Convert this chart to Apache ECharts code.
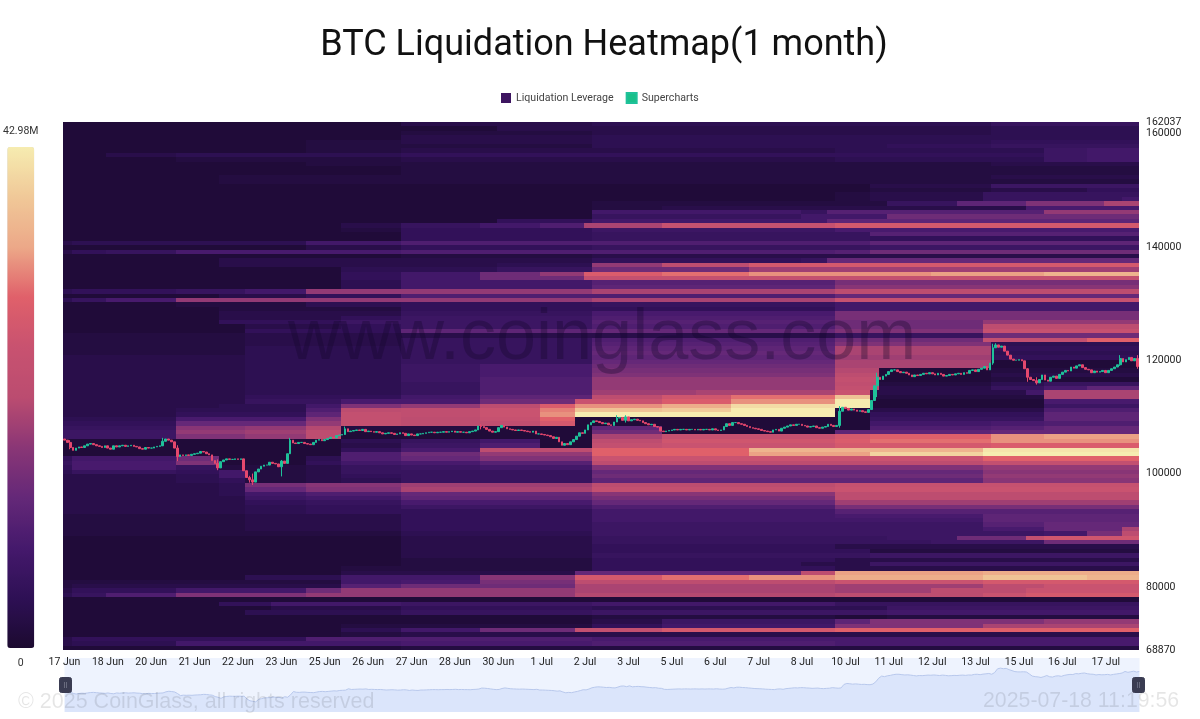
<!DOCTYPE html>
<html>
<head>
<meta charset="utf-8">
<script src="https://cdn.jsdelivr.net/npm/echarts@6/dist/echarts.min.js"></script>
<style>html,body{margin:0;padding:0;background:#fff}#chart{width:1200px;height:719px}</style>
</head>
<body>
<div id="chart"></div>
<script>
const chartTitle = 'BTC Liquidation Heatmap(1 month)';
const heatName = 'Liquidation Leverage';
const candleName = 'Supercharts';
const priceMin = 68870, priceMax = 162037, heatMax = 42.98;
const priceTicks = [68870, 80000, 100000, 120000, 140000, 160000, 162037];
const dateTicks = ['17 Jun','18 Jun','20 Jun','21 Jun','22 Jun','23 Jun','25 Jun','26 Jun','27 Jun','28 Jun','30 Jun','1 Jul','2 Jul','3 Jul','5 Jul','6 Jul','7 Jul','8 Jul','10 Jul','11 Jul','12 Jul','13 Jul','15 Jul','16 Jul','17 Jul'];
const palette = ['#1c0a30','#2e1055','#45196c','#642878','#8a3676','#bb4c70','#c85270','#e0606a','#eca888','#f0c898','#f6ecb0'];

// closing price of each candle, left to right
const closes = [
105900,105500,104600,104100,104500,104700,104600,104900,105200,105300,
105100,104900,104800,104600,104900,104500,104300,104900,104700,104900,
105000,104800,104900,105000,104800,104700,104400,104300,104600,104500,
104500,104700,104800,104900,105700,106100,105900,105600,104500,103000,
103300,103200,103300,103200,103400,103500,103600,103900,103800,103500,
103300,102300,101800,101000,102100,102400,102600,102500,102500,102600,
102500,102600,100500,99300,98900,98500,100300,100800,101300,101500,
101500,102000,101800,101700,101200,102200,101800,103500,105900,105400,
105300,105500,105500,105300,105200,105100,105500,105900,106000,105800,
106000,106200,106400,106300,106700,106800,106900,107900,107400,107500,
107600,107700,107600,107800,107400,107500,107400,107300,107400,107200,
107000,107100,107200,107100,106900,107000,107200,107100,106700,107000,
106800,106700,107000,107000,107100,107200,107300,107300,107200,107300,
107300,107400,107300,107400,107500,107300,107400,107300,107300,107200,
107400,107500,107700,108400,108300,108100,107800,107500,107300,107400,
108100,108500,108200,107900,107800,107700,107600,107700,107600,107500,
107400,107300,107500,107000,107000,106900,106800,106700,106500,106200,
106400,105600,105000,105300,105100,105600,106000,106600,107200,107100,
107700,108600,109000,109300,109200,109000,108800,108900,108600,108500,
109100,109800,109900,109400,110000,109300,109500,109600,109400,109300,
109000,108800,108600,108700,108300,108200,107500,107400,107500,107600,
107700,107800,107700,107800,107800,107700,107800,107800,107700,107800,
107700,107800,107800,107700,107900,107700,107600,107700,108300,108800,
108500,109000,109000,108800,108700,108500,108300,108100,108000,107900,
107800,107600,107500,107400,107300,107700,107800,107500,108000,108200,
108400,108600,108500,108700,108700,108500,108400,108200,108300,108400,
108100,108000,108200,108300,108700,108500,108300,108500,111000,111700,
111500,111200,111400,111200,111000,111100,110900,110800,111300,112900,
115500,117000,116600,117200,117500,118000,118300,118300,118000,117800,
117900,117700,117400,117100,117400,117300,117500,117700,117600,117800,
117600,117400,117700,117500,117200,117300,117500,117400,117600,117700,
117500,117800,117700,118200,118300,118000,118400,118600,118900,118300,
119500,122200,122700,122300,122500,121600,120900,120200,120000,120000,
120100,119900,118500,117000,116600,116400,116000,116600,117400,116500,
116300,117000,117200,116800,117500,117900,118200,118100,118800,118600,
119000,119200,118700,118400,118300,117800,118100,117900,118000,118200,
117800,118200,118500,118800,119200,120300,119700,120100,120500,119900,
120300,118900];
const firstOpen = 106100;
// the few candles with a wick long enough to be seen
const wickIndex = [2,34,39,53,64,65,75,78,97,144,191,194,268,281,321,322,333,336,365,371];
const wickHigh = [105900,106300,105000,102500,99600,100000,102400,106300,108300,108700,110300,110300,111900,117800,122900,123000,118600,117000,120900,120900];
const wickLow = [104300,105500,102200,100600,98400,98000,99500,105000,107200,107800,109300,109000,108100,113500,119200,122200,116200,115700,119000,118500];

// liquidity rows, top to bottom; each row is [startColumn, millions, startColumn, millions, ...]
const heatRows = [
[0,1,39,3,61,4,107,6],
[0,1,50,3,107,4],
[0,1,39,2,61,3,107,4],
[0,1,39,3,61,4],
[0,1,28,2,39,3,61,4,107,5],
[0,1,28,2,61,4,95,5,107,6],
[0,1,28,2,39,3,89,4,113,7,118,8],
[0,1,5,3,13,4,39,5,113,7,118,8],
[0,1,13,2,39,3,89,4,113,7,118,8],
[0,1,28,2,107,3],
[0,1,39,2],
[0,1,39,2],
[0,1,18,2,107,3],
[0,1,18,2],
[0,1,93,3,107,7],
[0,1,93,2,107,3,118,5],
[0,1,89,2,93,3,106,6],
[0,1,89,2,93,3,106,6,122,8],
[0,1,61,2,95,6,103,12,111,16,120,20],
[0,1,61,2,69,3,111,9],
[0,1,61,8,85,6,88,11,113,18],
[0,1,61,6,85,8,95,14],
[0,1,50,5,61,8,88,12],
[0,1,32,3,39,6,48,8,55,10,60,20,69,25,89,28],
[0,1,32,2,39,5,61,7,89,9],
[0,1,39,5,61,6,93,11],
[0,1,39,5,61,6,93,5],
[0,3,1,4,28,8,39,10,93,12],
[0,1,28,3,39,5,61,6,93,7],
[0,3,1,5,5,6,13,9,39,10,89,11,93,14],
[0,1,39,2,61,3],
[0,1,18,3,61,5,85,6,88,13],
[0,1,18,3,50,4,61,18,69,22,79,28],
[0,1,32,4,50,6,61,14,79,19],
[0,1,32,5,39,8,48,14,55,18,60,29,69,31,79,33,100,34,113,36],
[0,1,32,5,39,8,48,14,60,24],
[0,1,32,4,39,8,61,11,89,15],
[0,1,32,4,39,8,61,12,89,17],
[0,4,1,5,13,6,21,8,28,18,61,20,89,22],
[0,1,18,3,28,5,39,10,89,13],
[0,4,1,6,5,9,13,18,61,20,89,25],
[0,1,13,2,28,4,39,5,61,6,89,8],
[0,1,18,2,39,5,89,8],
[0,1,18,3,39,6,61,9,89,15],
[0,1,18,3,32,5,39,7,61,10,89,15],
[0,1,18,5,32,7,61,11,89,14,106,18],
[0,1,21,3,32,5,39,7,61,10,89,14,106,22],
[0,1,21,5,39,12,61,13,89,16,106,25],
[0,2,21,3,39,3,89,6,106,14],
[0,2,21,3,39,6,61,10,89,14,106,24,118,30],
[0,2,21,3,39,6,61,11,89,16,107,4],
[0,2,21,4,39,6,61,12,89,20,107,5],
[0,2,21,4,39,6,61,13,89,20,107,4],
[0,3,21,4,39,6,61,12,89,19,107,5],
[0,3,21,4,39,6,61,13,89,20,107,1],
[0,3,21,4,39,7,48,9,61,14,89,20,107,1],
[0,3,21,4,39,7,48,9,61,15,89,21,94,1,107,2],
[0,3,21,4,39,7,48,9,61,16,89,22,94,1,107,3],
[0,3,21,4,39,7,48,10,61,18,89,24,94,1,107,2,111,1],
[0,3,21,4,39,6,48,10,61,18,89,23,94,2,107,4,113,6],
[0,3,21,4,39,6,48,10,61,18,89,24,94,3,107,6,113,9,118,12],
[0,3,21,4,39,6,48,10,61,19,73,20,89,26,93,3,111,8,113,20],
[0,3,21,5,39,8,48,12,61,22,69,27,77,31,89,38,93,2,113,20],
[0,3,21,6,32,9,48,14,59,26,69,29,77,33,89,43,93,1,113,9],
[0,3,18,4,28,8,32,16,39,18,48,22,55,29,59,33,69,35,77,41,89,43,93,1,113,7],
[0,3,13,4,28,10,32,22,39,23,48,26,55,32,59,38,69,39,77,43,89,2,93,3,113,10],
[0,3,13,5,28,12,32,24,39,23,48,26,55,33,59,43,89,1,93,5,113,12],
[0,4,13,9,28,16,32,24,39,22,48,25,55,30,59,1,93,6,113,12],
[0,5,13,13,28,18,32,24,39,22,48,23,55,28,59,1,93,8,107,9,113,10],
[0,6,13,17,21,18,28,21,32,2,48,1,61,12,69,1,93,10,107,11,113,13],
[0,7,13,18,21,19,28,22,32,1,61,14,69,1,89,12,107,13],
[0,7,13,16,21,18,28,22,32,1,61,20,69,25,89,28,93,30,107,33,113,34],
[0,1,32,4,39,6,48,8,55,1,61,22,69,27,89,29,93,31,107,33],
[0,1,32,3,39,7,48,10,55,1,61,24,69,26,89,28,107,29],
[0,1,32,5,39,9,48,22,61,30,79,36,106,42],
[0,1,32,10,39,14,48,18,61,30,79,34,93,40,106,43],
[0,5,1,8,13,14,18,1,28,4,32,10,39,13,48,16,61,26,106,30],
[0,6,1,9,13,16,18,1,28,5,32,8,39,9,48,11,61,22,106,24],
[0,5,1,9,13,6,18,2,28,3,32,6,39,7,48,8,61,16,106,18],
[0,4,1,6,13,5,18,8,21,2,28,3,32,6,61,13,106,17],
[0,3,13,4,18,8,21,2,28,3,32,5,39,6,61,14,106,18],
[0,3,13,4,18,5,21,2,28,3,32,4,39,6,61,12,106,17],
[0,3,18,4,21,15,28,17,39,19,61,22,89,25],
[0,3,18,4,21,13,28,16,39,20,61,24,89,26],
[0,3,18,4,21,8,28,10,39,13,61,17,89,22],
[0,3,21,7,28,8,39,12,61,15,89,22],
[0,3,21,5,28,6,39,9,61,13,89,19],
[0,3,21,4,28,5,39,7,61,10,89,15],
[0,3,21,4,28,5,61,8,89,11],
[0,2,21,3,39,5,61,8,89,9,106,12],
[0,2,21,3,39,5,61,8,106,12],
[0,2,21,3,39,5,61,7,106,11,113,13],
[0,2,21,3,39,5,61,7,106,9,113,13,122,20],
[0,2,39,4,61,7,113,8,118,15,122,22],
[0,1,39,3,61,6,95,7,103,14,111,24,113,27],
[0,1,39,3,61,6,100,7,113,14],
[0,1,39,3,61,5,89,3],
[0,1,39,3,61,5,93,2],
[0,1,39,3,61,6,93,7],
[0,1,39,2,61,5,89,3],
[0,1,39,2,61,5,85,3,93,7],
[0,1,32,2,61,5,89,3],
[0,1,32,3,59,13,85,22,89,34,106,35],
[0,1,21,4,32,8,48,17,59,28,69,31,79,33,89,35,106,38,118,36],
[0,2,32,8,39,9,48,15,59,22,89,26,106,28],
[0,2,1,3,32,11,39,14,59,20,89,19,106,22,113,26],
[0,3,1,5,13,8,28,14,32,18,59,20,89,19,100,22,111,26],
[0,4,1,6,5,10,13,16,28,18,59,21,89,22,106,26,111,28],
[0,1],
[0,1,18,5,24,8,39,7,61,8,89,6],
[0,1,24,3,39,5,61,4,95,7],
[0,1,21,4,39,6,61,7,95,8],
[0,1,61,2,89,1,95,2],
[0,1,61,3,69,7,89,12,93,16,113,18],
[0,1,32,2,61,5,69,8,89,16,106,20],
[0,1,32,4,39,8,48,14,59,24,69,28,89,30],
[0,1,32,2,39,3],
[0,3,1,5,28,10,61,9],
[0,3,1,4,13,8,39,9,61,10,89,9],
[0,1,39,2]
];
const heatColumnCount = 124;
const candlesPerTick = 15;

// expand the rows into cells: each value holds until the next listed column
const heatCells = [];
heatRows.forEach((row, r) => {
  for (let k = 0; k < row.length; k += 2) {
    const end = k + 2 < row.length ? row[k + 2] : heatColumnCount;
    for (let c = row[k]; c < end; c++) heatCells.push([c, r, row[k + 1]]);
  }
});
const candleData = closes.map((close, i) => {
  const open = i === 0 ? firstOpen : closes[i - 1];
  const w = wickIndex.indexOf(i);
  const high = w >= 0 ? wickHigh[w] : Math.max(open, close);
  const low = w >= 0 ? wickLow[w] : Math.min(open, close);
  return [open, close, low, high];
});
const candleCategories = closes.map((_, i) => i % candlesPerTick === 0 ? dateTicks[i / candlesPerTick] : 'c' + i);

// cells snapped to whole pixels through the axes, so neighbours leave no seam
function renderHeatCell(params, api) {
  const p = api.coord([api.value(0), api.value(1)]);
  const s = api.size([1, 1]);
  const x0 = Math.round(p[0] - s[0] / 2), x1 = Math.round(p[0] + s[0] / 2);
  const y0 = Math.round(p[1] - s[1] / 2), y1 = Math.round(p[1] + s[1] / 2);
  return {
    type: 'rect',
    shape: {x: x0, y: y0, width: x1 - x0, height: y1 - y0},
    style: {fill: api.visual('color')},
    silent: true
  };
}

const font = 'Roboto, sans-serif';
const chart = echarts.init(document.getElementById('chart'), null, {renderer: 'canvas'});
chart.setOption({
  animation: false,
  backgroundColor: '#fff',
  title: {
    text: chartTitle, left: 599, top: 23, textAlign: 'center',
    textStyle: {fontFamily: font, fontSize: 36, fontWeight: 400, color: '#111'}
  },
  legend: {
    top: 87, left: 496, itemWidth: 10, itemHeight: 10, itemGap: 12, icon: 'rect',
    textStyle: {fontFamily: font, fontSize: 10.6, color: '#444'},
    data: [
      {name: heatName, icon: 'rect', itemStyle: {color: '#3d1560'}},
      {name: candleName, icon: 'rect', itemStyle: {color: '#19c08a'}}
    ]
  },
  grid: {left: 63, right: 61, top: 122, bottom: 69},
  xAxis: [
    {type: 'category', data: candleCategories, gridIndex: 0, z: 20,
      axisLine: {show: false}, axisTick: {show: false}, splitLine: {show: false},
      axisLabel: {interval: candlesPerTick - 1, margin: 7, fontFamily: font, fontSize: 10.5, color: '#222'}},
    {type: 'category', data: Array.from({length: heatColumnCount}, (_, i) => i), gridIndex: 0, show: false}
  ],
  yAxis: [
    {type: 'value', min: priceMin, max: priceMax, position: 'right', gridIndex: 0,
      axisLine: {show: false}, axisTick: {show: false}, splitLine: {show: false},
      axisLabel: {customValues: priceTicks, margin: 7, fontFamily: font, fontSize: 10.5, color: '#222', formatter: v => String(v)}},
    {type: 'category', inverse: true, data: heatRows.map((_, i) => i), gridIndex: 0, show: false}
  ],
  visualMap: {
    type: 'continuous', seriesIndex: 0, dimension: 2, min: 0, max: heatMax, left: -12, top: 111,
    itemWidth: 27, itemHeight: 501, calculable: false, realtime: false, align: 'auto', textGap: 10,
    text: ['42.98M', '0'], showLabel: true, hoverLink: false,
    textStyle: {fontFamily: font, fontSize: 10.5, color: '#333'},
    inRange: {color: palette, opacity: 1}
  },
  dataZoom: [{
    type: 'slider', xAxisIndex: 0, filterMode: 'none', start: 0, end: 100,
    left: 62, right: 63, top: 658, height: 54, showDetail: false, brushSelect: false,
    borderColor: 'transparent', backgroundColor: '#eef3fe', fillerColor: 'rgba(0,0,0,0)',
    showDataShadow: true,
    dataBackground: {lineStyle: {color: '#b8c8ec', width: 1, opacity: 1}, areaStyle: {color: '#dbe5fb', opacity: 1}},
    selectedDataBackground: {lineStyle: {color: '#b8c8ec', width: 1, opacity: 1}, areaStyle: {color: '#dbe5fb', opacity: 1}},
    handleIcon: 'path://M2 0H10A2 2 0 0 1 12 2V13A2 2 0 0 1 10 15H2A2 2 0 0 1 0 13V2A2 2 0 0 1 2 0ZM4.5 4V11H5.5V4ZM6.5 4V11H7.5V4Z',
    handleSize: 15, handleStyle: {color: '#3a3c52', borderColor: '#3a3c52'},
    moveHandleSize: 0
  }],
  series: [
    {name: heatName, type: 'custom', coordinateSystem: 'cartesian2d', xAxisIndex: 1, yAxisIndex: 1,
      data: heatCells, progressive: 0, renderItem: renderHeatCell, clip: true,
      encode: {x: 0, y: 1}, z: 1, silent: true},
    {name: candleName, type: 'candlestick', xAxisIndex: 0, yAxisIndex: 0, data: candleData, barWidth: 2.2,
      itemStyle: {color: '#1fc19a', color0: '#e5486e', borderColor: '#1fc19a', borderColor0: '#e5486e', borderWidth: 1},
      z: 5}
  ],
  graphic: [
    {type: 'text', left: 288, top: 303, z: 3, silent: true,
      style: {text: 'www.coinglass.com', font: '72px "Liberation Sans", Arial, sans-serif', fill: 'rgba(20,5,40,0.32)'}},
    {type: 'text', left: 18, top: 691, z: 100, silent: true,
      style: {text: '\u00a9 2025 CoinGlass, all rights reserved', font: '21.5px "Liberation Sans", Arial, sans-serif', fill: 'rgba(0,0,0,0.10)'}},
    {type: 'text', left: 983, top: 691, z: 100, silent: true,
      style: {text: '2025-07-18 11:19:56', font: '21.3px "Liberation Sans", Arial, sans-serif', fill: 'rgba(0,0,0,0.10)'}}
  ]
});
</script>
</body>
</html>
